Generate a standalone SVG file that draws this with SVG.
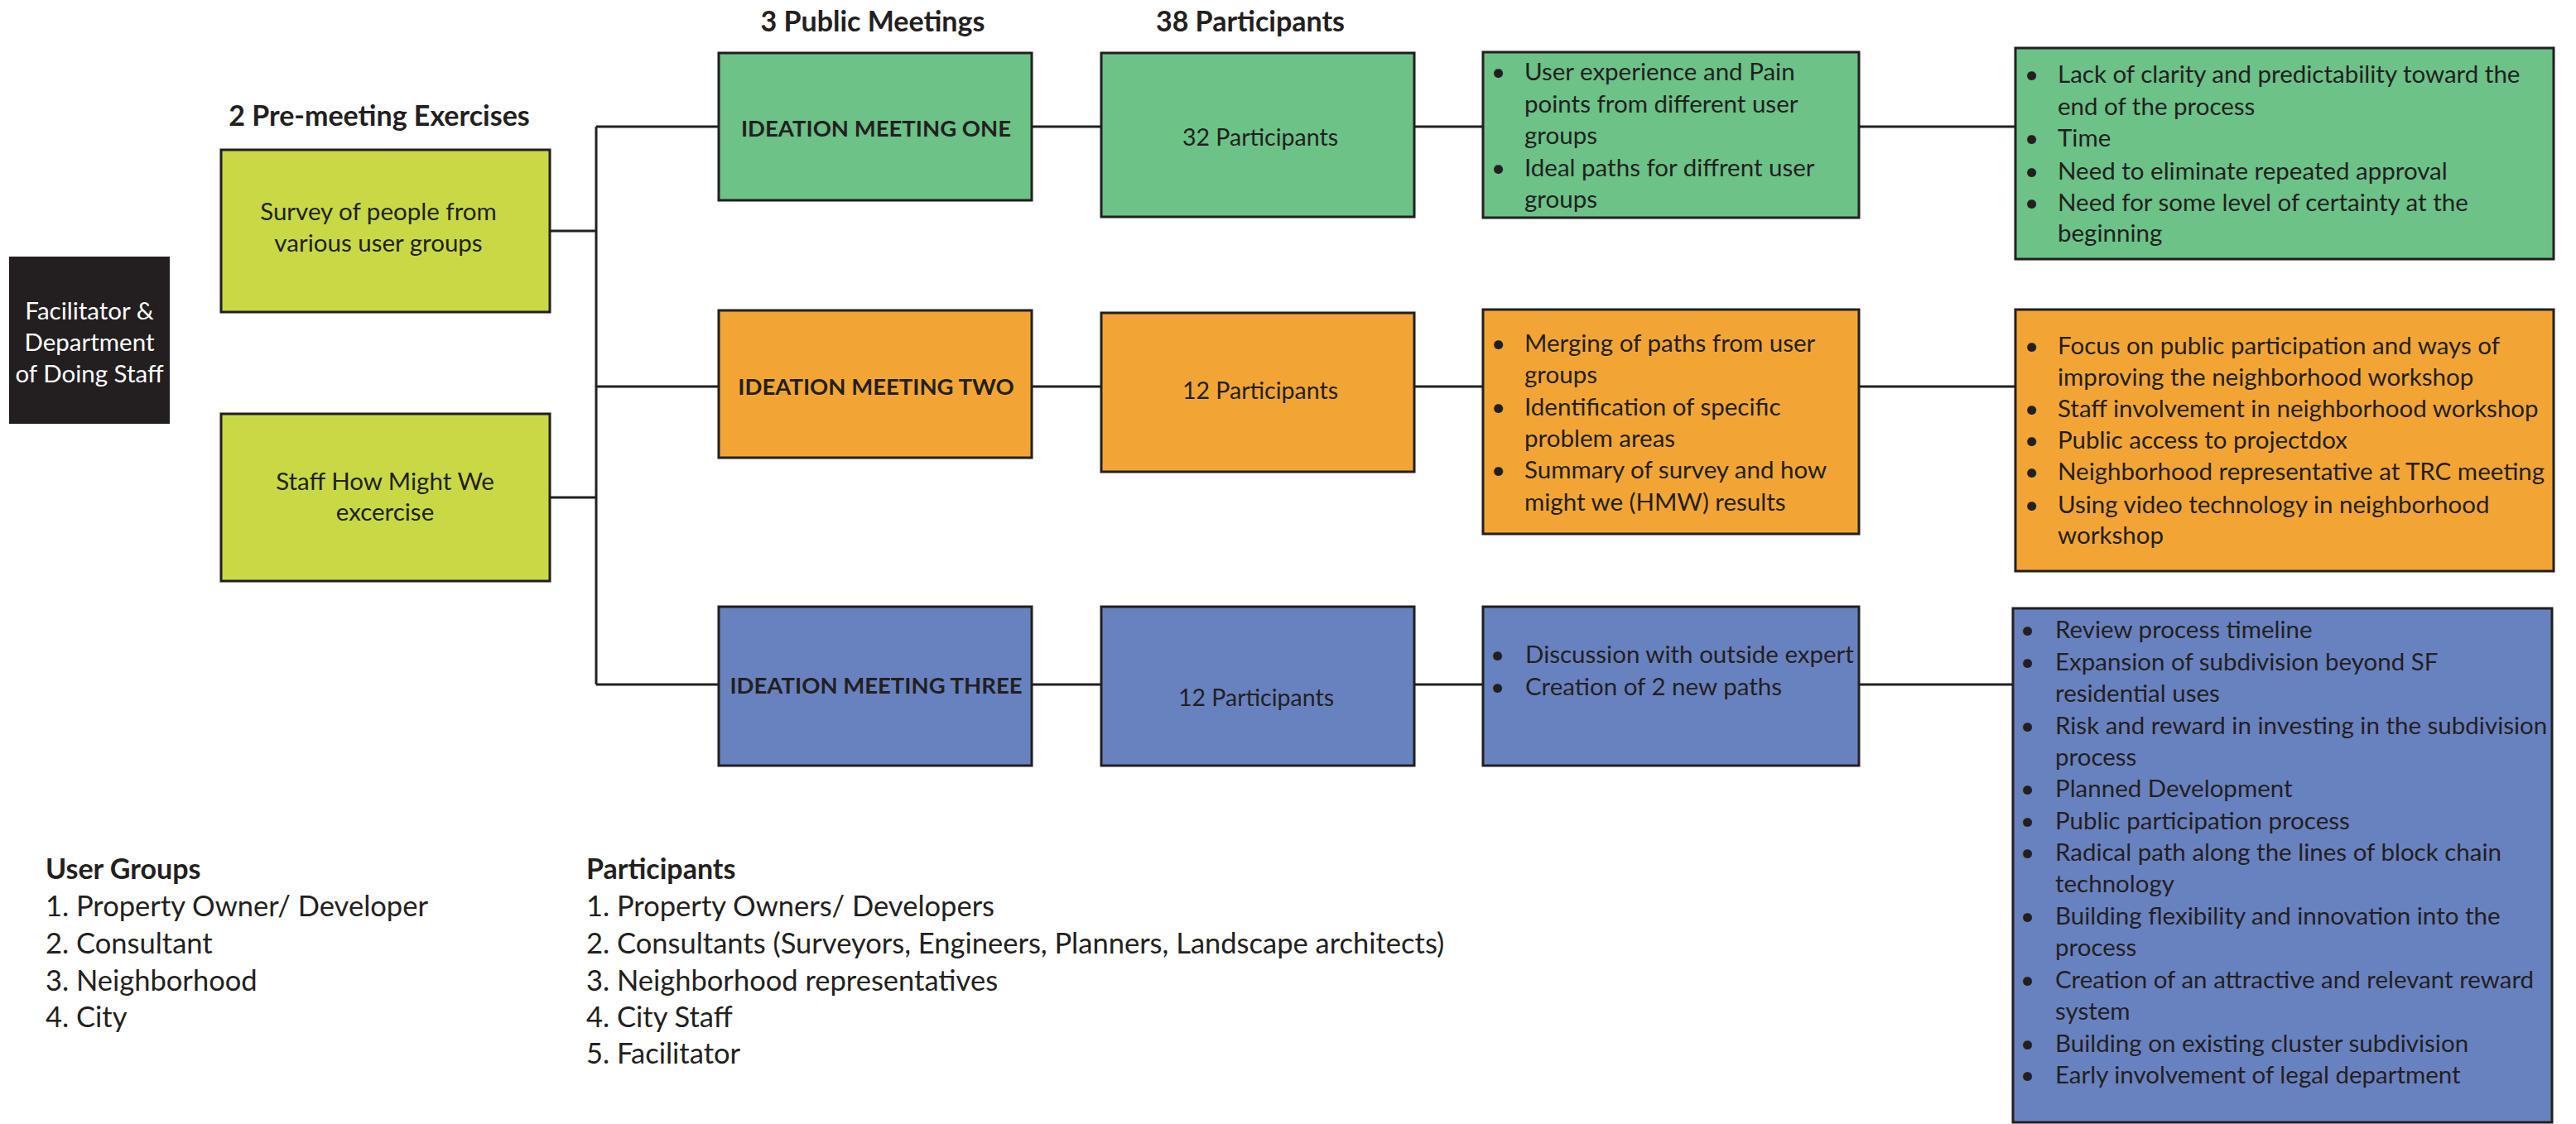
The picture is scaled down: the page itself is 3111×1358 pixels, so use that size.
<svg xmlns="http://www.w3.org/2000/svg" width="3111" height="1358" viewBox="0 0 3111 1358">
<style>
text{font-family:Lato,"Open Sans","Liberation Sans",sans-serif;fill:#231f20;}
.b{font-size:29.5px;}
.c{font-size:29.5px;text-anchor:middle;}
.p{font-size:28.5px;text-anchor:middle;}
.h{font-size:34px;font-weight:bold;text-anchor:middle;}
.m{font-size:27.5px;font-weight:bold;text-anchor:middle;}
.lg{font-size:34.5px;}
.lgh{font-size:34px;font-weight:bold;}
.box{stroke:#231f20;stroke-width:3;}
.g{fill:#6cc287;}
.o{fill:#f2a535;}
.bl{fill:#6882c0;}
.y{fill:#c8d945;}
.conn{fill:none;stroke:#231f20;stroke-width:3;}
</style>
<rect width="3111" height="1358" fill="#ffffff"/>

<g id="connectors">
<path class="conn" d="M664 279H720M664 601H720M720 153V827M720 153H868M720 467H868M720 827H868"/>
<path class="conn" d="M1246 153H1330M1708 153H1791M2245 153H2434"/>
<path class="conn" d="M1246 467H1330M1708 467H1791M2245 467H2434"/>
<path class="conn" d="M1246 827H1330M1708 827H1791M2245 827H2431"/>
</g>

<g id="headers">
<text class="h" x="458" y="152">2 Pre-meeting Exercises</text>
<text class="h" x="1054" y="38">3 Public Meetings</text>
<text class="h" x="1510" y="38">38 Participants</text>
</g>

<g id="facilitator">
<rect x="11" y="310" width="194" height="202" fill="#231f20"/>
<text class="c" x="108" y="386" style="fill:#ffffff">Facilitator &amp;</text>
<text class="c" x="108" y="424" style="fill:#ffffff">Department</text>
<text class="c" x="108" y="462" style="fill:#ffffff">of Doing Staff</text>
</g>

<g id="survey">
<rect class="box y" x="267" y="181" width="397" height="196"/>
<text class="c" x="457" y="266">Survey of people from</text>
<text class="c" x="457" y="304">various user groups</text>
</g>

<g id="staff-hmw">
<rect class="box y" x="267" y="500" width="397" height="202"/>
<text class="c" x="465" y="592">Staff How Might We</text>
<text class="c" x="465" y="629">excercise</text>
</g>

<g id="meeting-one">
<rect class="box g" x="868" y="64" width="378" height="178"/>
<text class="m" x="1058" y="165">IDEATION MEETING ONE</text>
</g>
<g id="participants-one">
<rect class="box g" x="1330" y="64" width="378" height="198"/>
<text class="p" x="1522" y="176">32 Participants</text>
</g>
<g id="topics-one">
<rect class="box g" x="1791" y="63" width="454" height="200"/>
<text class="b" x="1801" y="97">•</text><text class="b" x="1841" y="97">User experience and Pain</text>
<text class="b" x="1841" y="136">points from different user</text>
<text class="b" x="1841" y="174">groups</text>
<text class="b" x="1801" y="213">•</text><text class="b" x="1841" y="213">Ideal paths for diffrent user</text>
<text class="b" x="1841" y="251">groups</text>
</g>
<g id="results-one">
<rect class="box g" x="2434" y="58" width="650" height="255"/>
<text class="b" x="2445" y="100">•</text><text class="b" x="2485" y="100">Lack of clarity and predictability toward the</text>
<text class="b" x="2485" y="139">end of the process</text>
<text class="b" x="2445" y="177">•</text><text class="b" x="2485" y="177">Time</text>
<text class="b" x="2445" y="217">•</text><text class="b" x="2485" y="217">Need to eliminate repeated approval</text>
<text class="b" x="2445" y="255">•</text><text class="b" x="2485" y="255">Need for some level of certainty at the</text>
<text class="b" x="2485" y="292">beginning</text>
</g>

<g id="meeting-two">
<rect class="box o" x="868" y="375" width="378" height="178"/>
<text class="m" x="1058" y="477">IDEATION MEETING TWO</text>
</g>
<g id="participants-two">
<rect class="box o" x="1330" y="378" width="378" height="192"/>
<text class="p" x="1522" y="482">12 Participants</text>
</g>
<g id="topics-two">
<rect class="box o" x="1791" y="374" width="454" height="271"/>
<text class="b" x="1801" y="425">•</text><text class="b" x="1841" y="425">Merging of paths from user</text>
<text class="b" x="1841" y="463">groups</text>
<text class="b" x="1801" y="502">•</text><text class="b" x="1841" y="502">Identification of specific</text>
<text class="b" x="1841" y="540">problem areas</text>
<text class="b" x="1801" y="578">•</text><text class="b" x="1841" y="578">Summary of survey and how</text>
<text class="b" x="1841" y="617">might we (HMW) results</text>
</g>
<g id="results-two">
<rect class="box o" x="2434" y="374" width="650" height="316"/>
<text class="b" x="2445" y="428">•</text><text class="b" x="2485" y="428">Focus on public participation and ways of</text>
<text class="b" x="2485" y="466">improving the neighborhood workshop</text>
<text class="b" x="2445" y="504">•</text><text class="b" x="2485" y="504">Staff involvement in neighborhood workshop</text>
<text class="b" x="2445" y="542">•</text><text class="b" x="2485" y="542">Public access to projectdox</text>
<text class="b" x="2445" y="580">•</text><text class="b" x="2485" y="580">Neighborhood representative at TRC meeting</text>
<text class="b" x="2445" y="620">•</text><text class="b" x="2485" y="620">Using video technology in neighborhood</text>
<text class="b" x="2485" y="657">workshop</text>
</g>

<g id="meeting-three">
<rect class="box bl" x="868" y="733" width="378" height="192"/>
<text class="m" x="1058" y="838">IDEATION MEETING THREE</text>
</g>
<g id="participants-three">
<rect class="box bl" x="1330" y="733" width="378" height="192"/>
<text class="p" x="1517" y="853">12 Participants</text>
</g>
<g id="topics-three">
<rect class="box bl" x="1791" y="733" width="454" height="192"/>
<text class="b" x="1800" y="801">•</text><text class="b" x="1842" y="801">Discussion with outside expert</text>
<text class="b" x="1800" y="840">•</text><text class="b" x="1842" y="840">Creation of 2 new paths</text>
</g>
<g id="results-three">
<rect class="box bl" x="2431" y="735" width="651" height="621"/>
<text class="b" x="2440" y="771">•</text><text class="b" x="2482" y="771">Review process timeline</text>
<text class="b" x="2440" y="810">•</text><text class="b" x="2482" y="810">Expansion of subdivision beyond SF</text>
<text class="b" x="2482" y="848">residential uses</text>
<text class="b" x="2440" y="887">•</text><text class="b" x="2482" y="887">Risk and reward in investing in the subdivision</text>
<text class="b" x="2482" y="925">process</text>
<text class="b" x="2440" y="963">•</text><text class="b" x="2482" y="963">Planned Development</text>
<text class="b" x="2440" y="1002">•</text><text class="b" x="2482" y="1002">Public participation process</text>
<text class="b" x="2440" y="1040">•</text><text class="b" x="2482" y="1040">Radical path along the lines of block chain</text>
<text class="b" x="2482" y="1078">technology</text>
<text class="b" x="2440" y="1117">•</text><text class="b" x="2482" y="1117">Building flexibility and innovation into the</text>
<text class="b" x="2482" y="1155">process</text>
<text class="b" x="2440" y="1194">•</text><text class="b" x="2482" y="1194">Creation of an attractive and relevant reward</text>
<text class="b" x="2482" y="1232">system</text>
<text class="b" x="2440" y="1271">•</text><text class="b" x="2482" y="1271">Building on existing cluster subdivision</text>
<text class="b" x="2440" y="1309">•</text><text class="b" x="2482" y="1309">Early involvement of legal department</text>
</g>

<g id="legend-user-groups">
<text class="lgh" x="55" y="1062">User Groups</text>
<text class="lg" x="55" y="1107">1. Property Owner/ Developer</text>
<text class="lg" x="55" y="1152">2. Consultant</text>
<text class="lg" x="55" y="1197">3. Neighborhood</text>
<text class="lg" x="55" y="1241">4. City</text>
</g>
<g id="legend-participants">
<text class="lgh" x="708" y="1062">Participants</text>
<text class="lg" x="708" y="1107">1. Property Owners/ Developers</text>
<text class="lg" x="708" y="1152">2. Consultants (Surveyors, Engineers, Planners, Landscape architects)</text>
<text class="lg" x="708" y="1197">3. Neighborhood representatives</text>
<text class="lg" x="708" y="1241">4. City Staff</text>
<text class="lg" x="708" y="1285">5. Facilitator</text>
</g>
</svg>
